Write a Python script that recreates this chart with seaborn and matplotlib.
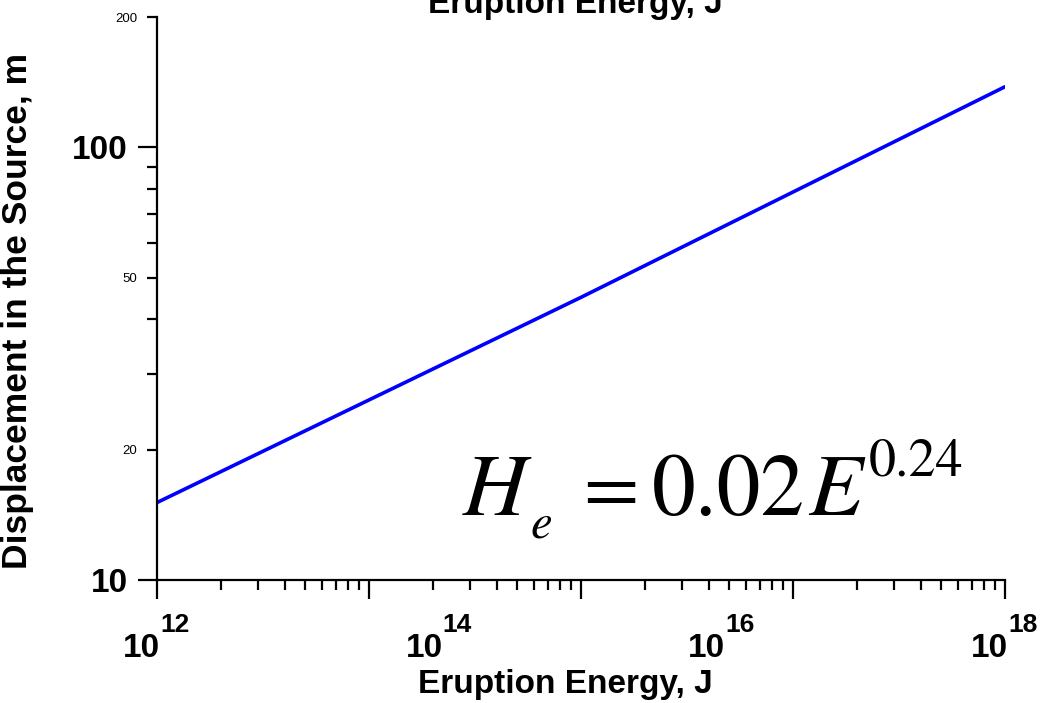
import numpy as np
import pandas as pd
import matplotlib
matplotlib.use("Agg")
import matplotlib.pyplot as plt
from matplotlib.ticker import FixedLocator, FixedFormatter, NullLocator, NullFormatter
from matplotlib.transforms import ScaledTranslation
import seaborn as sns

# ---- data ----
energy = [1e12, 1e15, 1e18]          # Eruption energy, J
displacement = [15.1, 45.0, 138.0]   # Displacement in the source, m

x_label_ticks = [1e12, 1e14, 1e16, 1e18]
x_label_base = ["10", "10", "10", "10"]
x_label_exp = ["12", "14", "16", "18"]
x_long_exp = [12, 13.5, 15, 16.5, 18]   # long tick positions (exponents)

y_major = [10, 100]
y_major_labels = ["10", "100"]
y_minor = [20, 30, 40, 50, 60, 70, 80, 90, 200]
y_minor_labels = ["20", "", "", "50", "", "", "", "", "200"]

xlabel = "Eruption Energy, J"
ylabel = "Displacement in the Source, m"

# ---- style ----
sns.set_theme(style="ticks")
plt.rcParams["font.family"] = ["Liberation Sans", "DejaVu Sans"]

df = pd.DataFrame({"E": energy, "H": displacement})

fig = plt.figure(figsize=(10.45, 7.03), dpi=100)
ax = fig.add_axes([157 / 1045, 1 - 580 / 703, 848 / 1045, 563 / 703])

sns.lineplot(data=df, x="E", y="H", ax=ax, color="#0000ff", linewidth=2.6)

ax.set_xscale("log")
ax.set_yscale("log")
ax.set_xlim(1e12, 1e18)
ax.set_ylim(10, 200)

for s in ["top", "right"]:
    ax.spines[s].set_visible(False)
for s in ["left", "bottom"]:
    ax.spines[s].set_linewidth(1.6)
    ax.spines[s].set_color("black")

# y axis
ax.yaxis.set_major_locator(FixedLocator(y_major))
ax.yaxis.set_major_formatter(FixedFormatter(y_major_labels))
ax.yaxis.set_minor_locator(FixedLocator(y_minor))
ax.yaxis.set_minor_formatter(FixedFormatter(y_minor_labels))
ax.tick_params(axis="y", which="major", direction="out", length=14, width=1.6,
               pad=7, labelsize=24, colors="black")
ax.tick_params(axis="y", which="minor", direction="out", length=7, width=1.6,
               pad=7, labelsize=9.5, colors="black")
for t in ax.yaxis.get_majorticklabels():
    t.set_fontweight("bold")

# x axis: base "10" labels (no tick marks) + short minor ticks
ax.xaxis.set_major_locator(FixedLocator(x_label_ticks))
ax.xaxis.set_major_formatter(FixedFormatter(x_label_base))
minor_pos = []
for a, b in zip(x_long_exp[:-1], x_long_exp[1:]):
    for k in range(2, 10):
        minor_pos.append(10 ** (a + (b - a) * np.log10(k)))
ax.xaxis.set_minor_locator(FixedLocator(minor_pos))
ax.xaxis.set_minor_formatter(NullFormatter())
ax.tick_params(axis="x", which="major", direction="out", length=0, pad=38,
               labelsize=24, colors="black")
ax.tick_params(axis="x", which="minor", direction="out", length=7, width=1.6,
               colors="black")
shift_base = ScaledTranslation(3 / 100, 0, fig.dpi_scale_trans)
for t in ax.xaxis.get_majorticklabels():
    t.set_fontweight("bold")
    t.set_horizontalalignment("right")
    t.set_transform(t.get_transform() + shift_base)

# exponents of the x labels
sec_exp = ax.secondary_xaxis("bottom")
sec_exp.spines["bottom"].set_visible(False)
sec_exp.xaxis.set_major_locator(FixedLocator(x_label_ticks))
sec_exp.xaxis.set_major_formatter(FixedFormatter(x_label_exp))
sec_exp.xaxis.set_minor_locator(NullLocator())
sec_exp.tick_params(axis="x", which="major", direction="out", length=0, pad=24,
                    labelsize=19, colors="black")
shift_exp = ScaledTranslation(3 / 100, 0, fig.dpi_scale_trans)
for t in sec_exp.xaxis.get_majorticklabels():
    t.set_fontweight("bold")
    t.set_horizontalalignment("left")
    t.set_transform(t.get_transform() + shift_exp)

# long ticks on a secondary axis at the bottom
sec = ax.secondary_xaxis("bottom")
sec.spines["bottom"].set_visible(False)
sec.xaxis.set_major_locator(FixedLocator([10 ** e for e in x_long_exp]))
sec.xaxis.set_major_formatter(NullFormatter())
sec.xaxis.set_minor_locator(NullLocator())
sec.tick_params(axis="x", which="major", direction="out", length=14, width=1.6,
                colors="black")

ax.set_xlabel(xlabel, fontsize=24, fontweight="bold", color="black")
ax.xaxis.set_label_coords(0.482, -0.158)
ax.xaxis.label.set_verticalalignment("top")
ax.set_ylabel(ylabel, fontsize=25.5, fontweight="bold", color="black")
ax.yaxis.set_label_coords(-0.145, 0.478)

ax.set_title(xlabel, fontsize=24, fontweight="bold", x=0.493, y=1.0071,
             pad=0, va="baseline", color="black")

# equation  H_e = 0.02 E^0.24  (Times-like STIX font)
def px(xp, yp):
    return (xp - 157) / 848, (580 - yp) / 563

eq_parts = [
    ("H", 463, 515, 64, "italic"),
    ("e", 530, 538, 35, "italic"),
    ("=", 583, 513, 58, "normal"),
    ("0.02", 652, 515, 63, "normal"),
    ("E", 808, 515, 64, "italic"),
    ("0.24", 869, 475, 39, "normal"),
]
for txt, xp, yp, fs, st in eq_parts:
    xa, ya = px(xp, yp)
    ax.text(xa, ya, txt, transform=ax.transAxes, fontsize=fs,
            family="STIXGeneral", style=st, ha="left", va="baseline",
            color="black")

ax.grid(False)
fig.savefig("out.png", dpi=100, facecolor="white")
